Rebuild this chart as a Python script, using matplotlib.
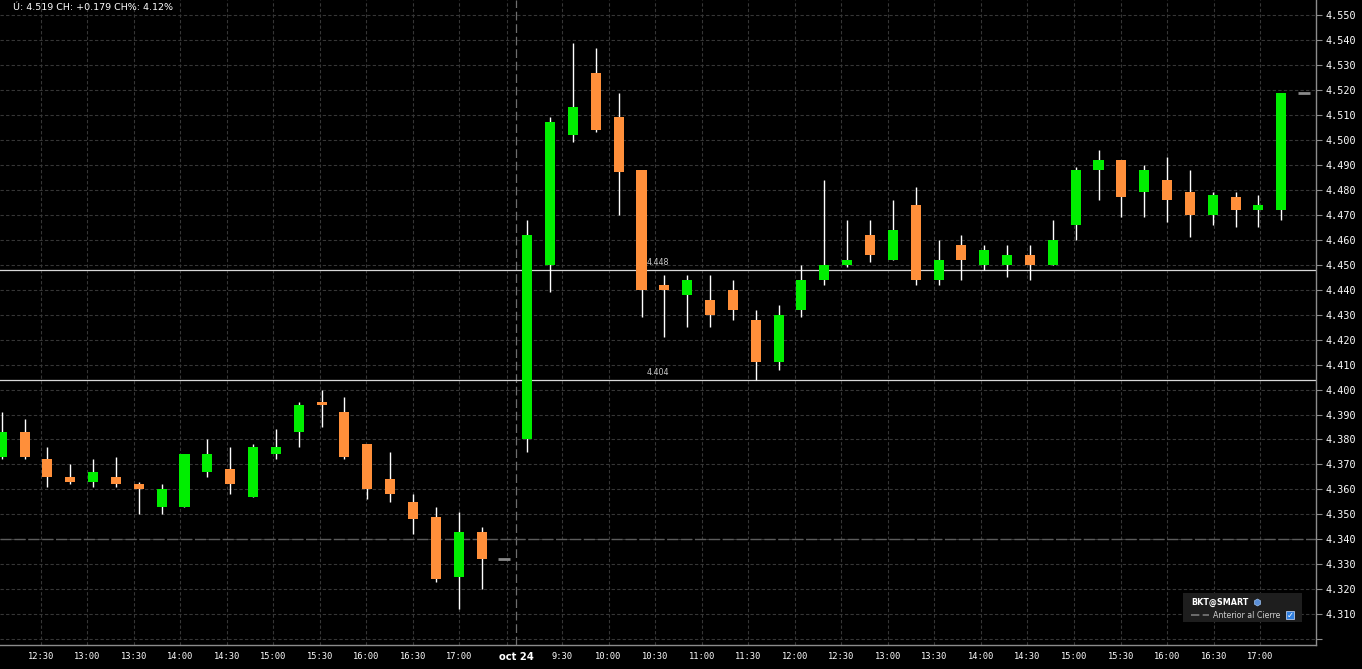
import numpy as np
import matplotlib
matplotlib.use("Agg")
import matplotlib.pyplot as plt
from matplotlib.patches import Rectangle

# 15 min candles - oct 23 afternoon
day1_open  = [4.373, 4.383, 4.372, 4.365, 4.363, 4.365, 4.362, 4.353, 4.353, 4.367, 4.368,
              4.357, 4.374, 4.383, 4.395, 4.391, 4.378, 4.364, 4.355, 4.349, 4.325, 4.343]
day1_high  = [4.391, 4.388, 4.377, 4.370, 4.372, 4.373, 4.363, 4.362, 4.374, 4.380, 4.377,
              4.378, 4.384, 4.395, 4.400, 4.397, 4.378, 4.375, 4.358, 4.353, 4.351, 4.345]
day1_low   = [4.372, 4.372, 4.361, 4.362, 4.361, 4.361, 4.350, 4.350, 4.353, 4.365, 4.358,
              4.357, 4.372, 4.377, 4.385, 4.372, 4.356, 4.355, 4.342, 4.323, 4.312, 4.320]
day1_close = [4.383, 4.373, 4.365, 4.363, 4.367, 4.362, 4.360, 4.360, 4.374, 4.374, 4.362,
              4.377, 4.377, 4.394, 4.394, 4.373, 4.360, 4.358, 4.348, 4.324, 4.343, 4.332]

# oct 24
day2_open  = [4.380, 4.450, 4.502, 4.527, 4.509, 4.488, 4.442, 4.438, 4.436, 4.440, 4.428, 4.411,
              4.432, 4.444, 4.450, 4.462, 4.452, 4.474, 4.444, 4.458, 4.450, 4.450, 4.454, 4.450,
              4.466, 4.488, 4.492, 4.479, 4.484, 4.479, 4.470, 4.477, 4.472, 4.472]
day2_high  = [4.468, 4.509, 4.539, 4.537, 4.519, 4.488, 4.446, 4.446, 4.446, 4.444, 4.432, 4.434,
              4.450, 4.484, 4.468, 4.468, 4.476, 4.481, 4.460, 4.462, 4.458, 4.458, 4.458, 4.468,
              4.489, 4.496, 4.492, 4.490, 4.493, 4.488, 4.479, 4.479, 4.478, 4.519]
day2_low   = [4.375, 4.439, 4.499, 4.503, 4.470, 4.429, 4.421, 4.425, 4.425, 4.428, 4.404, 4.408,
              4.429, 4.442, 4.449, 4.451, 4.452, 4.442, 4.442, 4.444, 4.448, 4.445, 4.444, 4.450,
              4.460, 4.476, 4.469, 4.469, 4.467, 4.461, 4.466, 4.465, 4.465, 4.468]
day2_close = [4.462, 4.507, 4.513, 4.504, 4.487, 4.440, 4.440, 4.444, 4.430, 4.432, 4.411, 4.430,
              4.444, 4.450, 4.452, 4.454, 4.464, 4.444, 4.452, 4.452, 4.456, 4.454, 4.450, 4.460,
              4.488, 4.492, 4.477, 4.488, 4.476, 4.470, 4.478, 4.472, 4.474, 4.519]

prev_close = 4.340
levels = [4.448, 4.404]
last_price = 4.519

day1_labels = ["12:30", "13:00", "13:30", "14:00", "14:30", "15:00", "15:30", "16:00", "16:30", "17:00"]
day2_labels = ["9:30", "10:00", "10:30", "11:00", "11:30", "12:00", "12:30", "13:00",
               "13:30", "14:00", "14:30", "15:00", "15:30", "16:00", "16:30", "17:00"]
day_label = "oct 24"
header = "Ú: 4.519 CH: +0.179 CH%: 4.12%"

GREEN = "#00ee00"
ORANGE = "#ff8f3a"
GRID = "#363636"

W, H = 1362, 669
fig = plt.figure(figsize=(W / 100, H / 100), dpi=100, facecolor="black")
ax = fig.add_axes([0, 24 / H, 1316 / W, 1 - 24 / H], facecolor="black")

# candle slots (one per 15 min bar), gap of one slot between sessions
SLOT = 22.85
X0 = 1.7
def px2slot(px):
    return (px - X0) / SLOT

o = np.array(day1_open + day2_open)
h = np.array(day1_high + day2_high)
l = np.array(day1_low + day2_low)
c = np.array(day1_close + day2_close)
x = np.concatenate([np.arange(len(day1_open)), np.arange(len(day2_open)) + len(day1_open) + 1])
cols = [GREEN if cc >= oo else ORANGE for oo, cc in zip(o, c)]

ax.vlines(x, l, h, color="white", lw=1.0, zorder=3)
body = np.where(np.abs(c - o) < 0.0004, 0.0004, c - o)
ax.bar(x, body, bottom=o, width=0.44, color=cols, edgecolor="none", zorder=4)

# close markers
ax.plot([len(day1_open)], [day1_close[-1]], marker="_", ms=9, mew=2, color="#8a8a8a", zorder=4)
ax.plot([len(x) + 1], [last_price], marker="_", ms=9, mew=2, color="#8a8a8a", zorder=4)

ax.set_xlim(px2slot(0), px2slot(1316))
ax.set_ylim(4.29765, 4.55607)

# grid
day1_px = [41 + 46.45 * k for k in range(len(day1_labels))]
day2_px = [562 + 46.55 * k for k in range(len(day2_labels))]
sep_px = 516
for p in day1_px + [507] + day2_px:
    ax.axvline(px2slot(p), color=GRID, lw=0.8, ls=(0, (3, 2)), zorder=1)
yt = np.round(np.arange(4.30, 4.5501, 0.01), 3)
for v in yt:
    ax.axhline(v, color=GRID, lw=0.8, ls=(0, (3, 2)), zorder=1)
ax.axvline(px2slot(sep_px), color="#6e6e6e", lw=0.9, ls=(0, (7, 3)), zorder=2)
ax.axhline(prev_close, color="#5c5c5c", lw=1.0, ls=(0, (8, 2)), zorder=2)

for v in levels:
    ax.axhline(v, color="#d8d8d8", lw=0.9, zorder=2)
    ax.text(px2slot(647), v + 0.0012, f"{v:.3f}", color="#c8c8c8", fontsize=5.8,
            ha="left", va="bottom", zorder=5)

# axes styling
for s in ["left", "top"]:
    ax.spines[s].set_visible(False)
for s in ["right", "bottom"]:
    ax.spines[s].set_color("#8c8c8c")
    ax.spines[s].set_linewidth(1.0)

ax.yaxis.tick_right()
ax.set_yticks(yt)
ax.set_yticklabels(["" if v < 4.305 else f"{v:.3f}" for v in yt])
ax.tick_params(axis="y", colors="#8c8c8c", length=4, width=0.8, pad=3, labelcolor="white")
for t in ax.get_yticklabels():
    t.set_fontfamily("DejaVu Sans Mono")
    t.set_fontsize(7.3)

xt = [px2slot(p) for p in day1_px] + [px2slot(sep_px)] + [px2slot(p) for p in day2_px]
ax.set_xticks(xt)
ax.set_xticklabels(day1_labels + [day_label] + day2_labels)
ax.tick_params(axis="x", length=0, pad=5, labelcolor="white")
for t in ax.get_xticklabels():
    if t.get_text() == day_label:
        t.set_fontfamily("DejaVu Sans")
        t.set_fontweight("bold")
        t.set_fontsize(7.2)
    else:
        t.set_fontfamily("DejaVu Sans Mono")
        t.set_fontsize(6.3)

# header text
fig.text(13 / W, 1 - 8 / H, header, color="white", fontsize=6.8, ha="left", va="center")

# legend box
def fx(px):
    return px / W
def fy(py):
    return 1 - py / H

fig.add_artist(Rectangle((fx(1183), fy(622)), 119 / W, 29 / H, transform=fig.transFigure,
                         facecolor="#1e1e1e", edgecolor="none", zorder=10))
fig.text(fx(1191), fy(602), "BKT@SMART", color="white", fontsize=5.8, fontweight="bold",
         ha="left", va="center", zorder=11)
# small blue icon next to the symbol name
fig.add_artist(plt.Line2D([fx(1257)], [fy(602)], transform=fig.transFigure, marker="h",
                          ms=5, color="#5a8fd8", mec="#9fc2f0", mew=0.5, zorder=11))
fig.add_artist(plt.Line2D([fx(1191), fx(1209)], [fy(615), fy(615)], transform=fig.transFigure,
                          color="#7a7a7a", lw=1.2, ls=(0, (5, 2)), zorder=11))
fig.text(fx(1213), fy(615), "Anterior al Cierre", color="#cfcfcf", fontsize=5.7,
         ha="left", va="center", zorder=11)
fig.add_artist(Rectangle((fx(1286), fy(619)), 8 / W, 8 / H, transform=fig.transFigure,
                         facecolor="#2f7fe0", edgecolor="#cfe0ff", lw=0.5, zorder=11))
fig.text(fx(1290), fy(615), "✓", color="white", fontsize=6, fontweight="bold",
         ha="center", va="center", zorder=12)

fig.savefig("out.png", dpi=100, facecolor="black")
